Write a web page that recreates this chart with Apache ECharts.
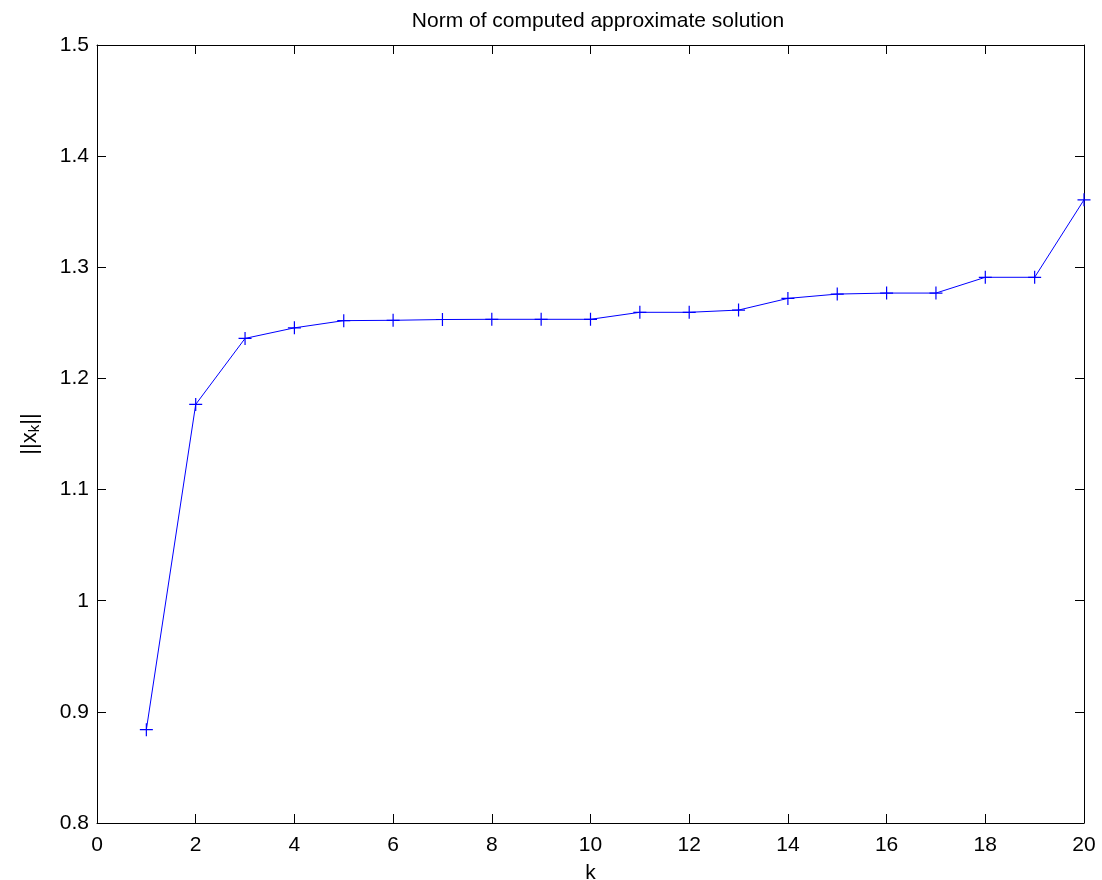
<!DOCTYPE html>
<html>
<head>
<meta charset="utf-8">
<script src="https://cdn.jsdelivr.net/npm/echarts@6/dist/echarts.min.js"></script>
<style>html,body{margin:0;padding:0;background:#fff}#c{width:1102px;height:880px}</style>
</head>
<body>
<div id="c"></div>
<script>
const kValues = [1,2,3,4,5,6,7,8,9,10,11,12,13,14,15,16,17,18,19,20];
const normValues = [0.884,1.1766,1.236,1.2455,1.252,1.2523,1.253,1.2532,1.2532,1.2532,1.2595,1.2595,1.2615,1.272,1.2759,1.2768,1.2768,1.291,1.291,1.3607];
const titleText = 'Norm of computed approximate solution';
const xName = 'k';

const chart = echarts.init(document.getElementById('c'));
const font = 'Liberation Sans, Arial, Helvetica, sans-serif';
const axisCommon = {
  axisLine: {show: true, onZero: false, lineStyle: {color: '#000', width: 1}},
  axisTick: {show: true, inside: true, length: 9, lineStyle: {color: '#000'}},
  splitLine: {show: false}
};
chart.setOption({
  animation: false,
  backgroundColor: '#fff',
  title: {text: titleText, left: 593, top: 6, textAlign: 'center',
    textStyle: {fontFamily: font, fontSize: 21, fontWeight: 'normal', color: '#000'}},
  grid: {left: 97, right: 18, top: 45, bottom: 57, containLabel: false, outerBoundsMode: 'none'},
  xAxis: [
    Object.assign({type: 'value', min: 0, max: 20, interval: 2, position: 'bottom',
      name: xName, nameLocation: 'middle', nameGap: 40,
      nameTextStyle: {fontFamily: font, fontSize: 21, color: '#000'},
      axisLabel: {fontFamily: font, fontSize: 21, color: '#000', margin: 12}}, axisCommon),
    Object.assign({type: 'value', min: 0, max: 20, interval: 2, position: 'top',
      axisLabel: {show: false}}, axisCommon)
  ],
  yAxis: [
    Object.assign({type: 'value', min: 0.8, max: 1.5, interval: 0.1, position: 'left',
      name: '{n|||x}{s|k}{n|||}', nameLocation: 'middle', nameGap: 55, nameRotate: 90,
      nameTextStyle: {rich: {
        n: {fontFamily: font, fontSize: 22, color: '#000'},
        s: {fontFamily: font, fontSize: 15, color: '#000', verticalAlign: 'bottom', padding: [10,0,0,0]}
      }},
      axisLabel: {fontFamily: font, fontSize: 21, color: '#000', margin: 8,
        formatter: v => String(Math.round(v*10)/10)}}, axisCommon),
    Object.assign({type: 'value', min: 0.8, max: 1.5, interval: 0.1, position: 'right',
      axisLabel: {show: false}}, axisCommon)
  ],
  series: [{
    type: 'line',
    data: kValues.map((k, i) => [k, normValues[i]]),
    lineStyle: {color: '#0000ff', width: 1},
    symbol: 'path://M0,5L10,5M5,0L5,10',
    symbolSize: 13,
    itemStyle: {color: 'none', borderColor: '#0000ff', borderWidth: 1.2},
    clip: false
  }]
});
</script>
</body>
</html>
